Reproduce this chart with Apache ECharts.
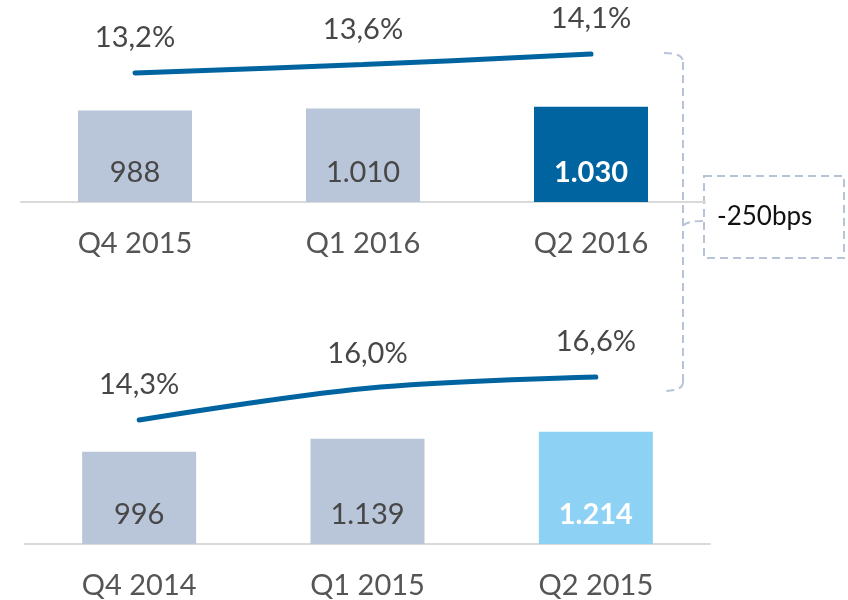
<!DOCTYPE html>
<html>
<head>
    <meta charset="utf-8">
    <title></title>
    <script src="https://cdn.jsdelivr.net/npm/echarts@6/dist/echarts.min.js"></script>
</head>
<body style="margin:0;background:#fff;">
<div id="main" style="width: 848px;height:600px;"></div>
<script type="text/javascript">
// data, top panel (2015/16) and bottom panel (2014/15)
var topQuarters = ['Q4 2015', 'Q1 2016', 'Q2 2016'];
var topVolumes = [988, 1010, 1030];
var topMargins = [13.2, 13.6, 14.1];

var bottomQuarters = ['Q4 2014', 'Q1 2015', 'Q2 2015'];
var bottomVolumes = [996, 1139, 1214];
var bottomMargins = [14.3, 16.0, 16.6];

var deltaLabel = '-250bps';

var grey = '#B9C5D8';
var darkBlue = '#0064A0';
var lightBlue = '#8DD1F5';
var textCol = '#474747';
var font = 'Lato';

function fmtPct(v) { return v.toFixed(1).replace('.', ',') + '%'; }
function fmtNum(v) {
    return String(v).replace(/\B(?=(\d{3})+(?!\d))/g, '.');
}

var myChart = echarts.init(document.getElementById('main'));

function xAxisFor(idx, cats) {
    return {
        type: 'category', gridIndex: idx, data: cats,
        axisLine: {lineStyle: {color: '#D9D9D9', width: 2}},
        axisTick: {show: false},
        axisLabel: {color: '#555', fontSize: 29, fontFamily: font, margin: 27}
    };
}
function hiddenY(idx, min, max) {
    return {type: 'value', gridIndex: idx, min: min, max: max, show: false, splitLine: {show: false}};
}
function bars(idx, vals, hi) {
    return {
        type: 'bar', xAxisIndex: idx, yAxisIndex: idx * 2,
        // highlighted last bar gets its own colour and a bold white label
        data: vals.map(function (v, i) {
            return i === 2 ? {value: v, itemStyle: {color: hi}, label: {color: '#fff', fontWeight: 'bold'}} : v;
        }),
        barWidth: 114,
        itemStyle: {color: grey},
        label: {
            show: true, position: 'insideBottom', distance: 15,
            fontSize: 29, fontFamily: font, color: textCol,
            formatter: function (p) { return fmtNum(p.value); }
        },
        z: 2
    };
}
function line(idx, vals) {
    return {
        type: 'line', xAxisIndex: idx, yAxisIndex: idx * 2 + 1, data: vals,
        smooth: 0.35, symbol: 'circle', symbolSize: 1, showSymbol: true,
        itemStyle: {color: darkBlue},
        lineStyle: {color: darkBlue, width: 5, cap: 'round'},
        label: {
            show: true, position: 'top', distance: 20,
            fontSize: 29, fontFamily: font, color: textCol,
            formatter: function (p) { return fmtPct(p.value); }
        },
        z: 3
    };
}

var dash = {stroke: '#B7C4D8', lineWidth: 2, lineDash: [8, 5], fill: null};

myChart.setOption({
    animation: false,
    grid: [
        {left: 21, top: 17, width: 684, height: 185},
        {left: 25, top: 359, width: 685, height: 185}
    ],
    xAxis: [xAxisFor(0, topQuarters), xAxisFor(1, bottomQuarters)],
    yAxis: [
        hiddenY(0, 0, 2000), hiddenY(0, 7.057, 15.867),
        hiddenY(1, 0, 2000), hiddenY(1, 7.67, 17.56)
    ],
    series: [bars(0, topVolumes, darkBlue), line(0, topMargins), bars(1, bottomVolumes, lightBlue), line(1, bottomMargins)],
    graphic: [
        // dashed brace on the right
        {type: 'bezierCurve', shape: {x1: 664, y1: 53, cpx1: 683, cpy1: 53, x2: 683, y2: 62}, style: dash},
        {type: 'line', shape: {x1: 683, y1: 62, x2: 683, y2: 382}, style: dash},
        {type: 'bezierCurve', shape: {x1: 683, y1: 382, cpx1: 683, cpy1: 391, x2: 664, y2: 391}, style: dash},
        {type: 'bezierCurve', shape: {x1: 683, y1: 226, cpx1: 686, cpy1: 221, x2: 703, y2: 221}, style: dash},
        {type: 'rect', shape: {x: 704, y: 176, width: 140, height: 82}, style: dash},
        {type: 'text', x: 717, y: 217, style: {
            text: deltaLabel, fontSize: 26, fontFamily: font, fill: '#111',
            verticalAlign: 'middle'
        }}
    ]
});
</script>
</body>
</html>
